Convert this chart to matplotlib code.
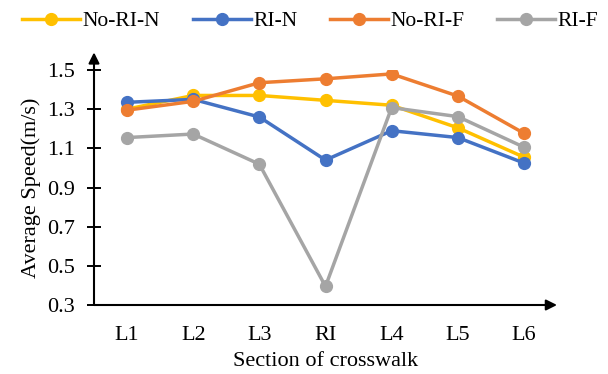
import matplotlib.pyplot as plt

plt.rcParams['font.family'] = ['Liberation Serif', 'DejaVu Serif']

sections = ['L1', 'L2', 'L3', 'RI', 'L4', 'L5', 'L6']
no_ri_n = [1.30, 1.37, 1.37, 1.345, 1.32, 1.205, 1.055]
ri_n = [1.335, 1.35, 1.26, 1.04, 1.19, 1.155, 1.025]
no_ri_f = [1.295, 1.34, 1.435, 1.455, 1.48, 1.367, 1.177]
ri_f = [1.155, 1.173, 1.019, 0.395, 1.308, 1.262, 1.106]
yticks = [0.3, 0.5, 0.7, 0.9, 1.1, 1.3, 1.5]

series = [
    ('No-RI-N', no_ri_n, '#FFC000'),
    ('RI-N', ri_n, '#4472C4'),
    ('No-RI-F', no_ri_f, '#ED7D31'),
    ('RI-F', ri_f, '#A5A5A5'),
]

fig = plt.figure(figsize=(6.08, 3.74), dpi=100)
ax = fig.add_axes([94 / 608, 1 - 305 / 374, (557 - 94) / 608, (305 - 70) / 374])

x = range(len(sections))
for name, vals, col in series:
    ax.plot(x, vals, color=col, lw=2.5, marker='o', markersize=8.5, label=name)

ax.set_xlim(-0.5, 6.5)
ax.set_ylim(0.3, 1.5)
ax.set_xticks(list(x))
ax.set_xticklabels(sections)
ax.set_yticks(yticks)
ax.set_yticklabels([f'{v:.1f}' for v in yticks])
ax.tick_params(axis='y', direction='inout', length=10, width=1.4, pad=9, labelsize=16)
ax.tick_params(axis='x', length=0, pad=15, labelsize=16)

for s in ax.spines.values():
    s.set_visible(False)

# axis arrows
ax.annotate('', xy=(1.0, 0), xytext=(0, 0), xycoords='axes fraction',
            arrowprops=dict(arrowstyle='-|>', lw=1.5, color='black', mutation_scale=16,
                            shrinkA=0, shrinkB=0), annotation_clip=False)
ax.annotate('', xy=(0, 1.075), xytext=(0, 0), xycoords='axes fraction',
            arrowprops=dict(arrowstyle='-|>', lw=1.5, color='black', mutation_scale=16,
                            shrinkA=0, shrinkB=0), annotation_clip=False)

ax.set_xlabel('Section of crosswalk', fontsize=16, labelpad=5)
ax.set_ylabel('Average Speed(m/s)', fontsize=16, labelpad=4)

fig.legend(loc='center', bbox_to_anchor=(310 / 608, 1 - 21 / 374), ncol=4, frameon=False,
           fontsize=15.5, handlelength=2.7, handletextpad=0.12, columnspacing=1.5)

fig.savefig('out.png', dpi=100)
